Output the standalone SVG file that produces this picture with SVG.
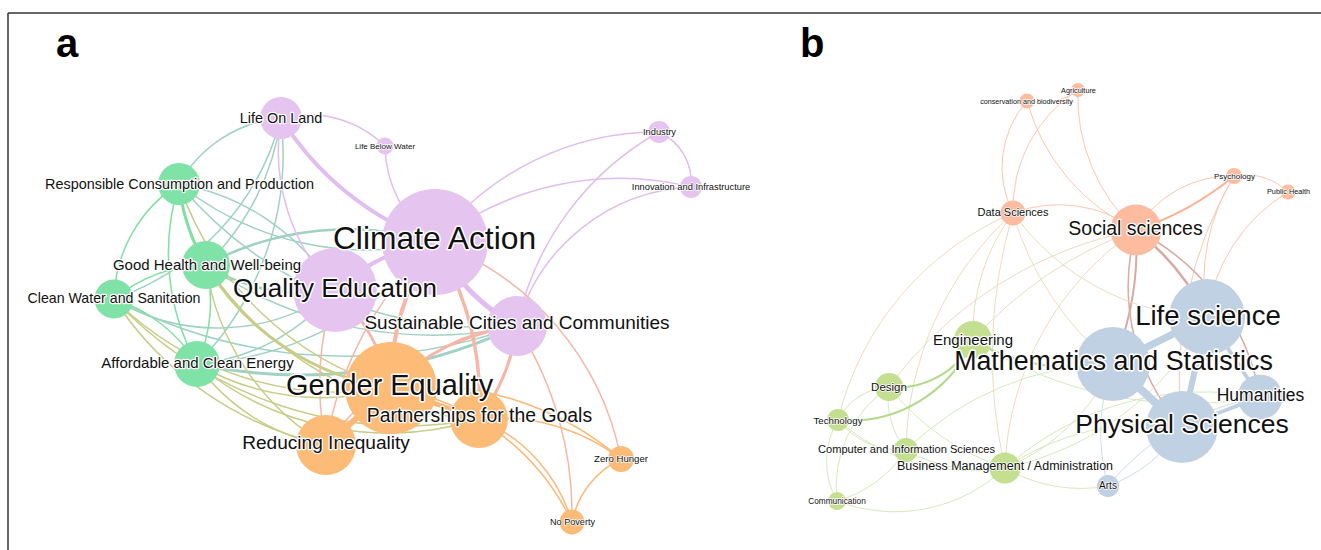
<svg xmlns="http://www.w3.org/2000/svg" width="1321" height="550" viewBox="0 0 1321 550">
<style>
  .lbl{font-family:"Liberation Sans",Arial,sans-serif;fill:#111;stroke:#fff;stroke-width:2.4;stroke-linejoin:round;paint-order:stroke;text-anchor:middle}
  .sm{stroke-width:1.4}
  .big{stroke-width:3}
  .panel{font-family:"Liberation Sans",Arial,sans-serif;font-weight:bold;font-size:40px;fill:#000}
  .e{fill:none;stroke-linecap:round}
  .ep{stroke:#e2bdf0;stroke-width:1.5}
  .et{stroke:#a0d2c4;stroke-width:1.5}
  .eo{stroke:#c8cd88;stroke-width:1.5}
  .es{stroke:#f6b7a8;stroke-width:1.5}
  .eor{stroke:#fdb878;stroke-width:1.5}
  .eg{stroke:#80e0a4;stroke-width:1.5}
  .bs{stroke:#fcc6b0;stroke-width:1}
  .bm{stroke:#d8aaa3;stroke-width:1.5}
  .bb{stroke:#eedcc0;stroke-width:1}
  .bg2{stroke:#b3d98a;stroke-width:2}
  .bg{stroke:#d6eabd;stroke-width:1}
  .bl{stroke:#cfdcea;stroke-width:1}
  .bt{stroke:#bfd0e2}
  .np{fill:#e6c4f0}
  .ng{fill:#7fe2a6}
  .no{fill:#fdbb78}
  .ns{fill:#fdbba0}
  .nl{fill:#c4df8f}
  .nb{fill:#c0d1e3}
</style>

<g id="frame" fill="none" stroke="#333" stroke-width="1.5">
  <line x1="8" y1="13" x2="1321" y2="13"/>
  <line x1="8" y1="13" x2="8" y2="550"/>
</g>
<text class="panel" x="56" y="57">a</text>
<text class="panel" x="800" y="57">b</text>

<g id="connectors-a">
  <!-- green-purple -->
  <path class="e et" d="M179,184 A130,130 0 0 1 281,118"/>
  <path class="e et" d="M206,265 A250,250 0 0 0 281,118"/>
  <path class="e et" d="M197,364 A300,300 0 0 0 281,118"/>
  <path class="e et" d="M114,299 A260,260 0 0 0 281,118"/>
  <path class="e et" d="M179,184 A230,230 0 0 1 335,290"/>
  <path class="e et" d="M179,184 A300,300 0 0 0 435,242"/>
  <path class="e et" d="M179,184 A400,400 0 0 0 517,326"/>
  <path class="e et" d="M206,265 A180,180 0 0 0 335,290" style="stroke-width:2.5"/>
  <path class="e et" d="M206,265 A300,300 0 0 1 435,242" style="stroke-width:2.5"/>
  <path class="e et" d="M206,265 A400,400 0 0 0 517,326"/>
  <path class="e et" d="M114,299 A200,200 0 0 0 335,290"/>
  <path class="e et" d="M114,299 A500,500 0 0 0 517,326"/>
  <path class="e et" d="M197,364 A200,200 0 0 0 335,290"/>
  <path class="e et" d="M197,364 A500,500 0 0 0 517,326" style="stroke-width:3"/>
  <path class="e et" d="M197,364 A330,330 0 0 0 435,242"/>
  <!-- green-orange -->
  <path class="e eo" d="M206,265 A260,260 0 0 0 391,388" style="stroke-width:3"/>
  <path class="e eo" d="M179,184 A320,320 0 0 0 391,388"/>
  <path class="e eo" d="M206,265 A250,250 0 0 0 326,445"/>
  <path class="e eo" d="M206,265 A350,350 0 0 0 479,419"/>
  <path class="e eo" d="M114,299 A340,340 0 0 0 326,445"/>
  <path class="e eo" d="M114,299 A320,320 0 0 0 391,388"/>
  <path class="e eo" d="M114,299 A400,400 0 0 0 479,419"/>
  <path class="e eo" d="M197,364 A250,250 0 0 0 391,388"/>
  <path class="e eo" d="M197,364 A200,200 0 0 0 326,445"/>
  <path class="e eo" d="M197,364 A300,300 0 0 0 479,419"/>
  <!-- green-green -->
  <path class="e eg" d="M179,184 A200,200 0 0 0 206,265" style="stroke-width:3"/>
  <path class="e eg" d="M179,184 A140,140 0 0 0 114,299"/>
  <path class="e eg" d="M179,184 A230,230 0 0 0 197,364"/>
  <path class="e eg" d="M206,265 A150,150 0 0 1 197,364"/>
  <path class="e eg" d="M114,299 A150,150 0 0 1 197,364"/>
  <path class="e eg" d="M114,299 A150,150 0 0 1 206,265"/>
  <!-- purple-purple -->
  <path class="e ep" d="M281,118 A300,300 0 0 0 435,242" style="stroke-width:4"/>
  <path class="e ep" d="M435,242 A200,200 0 0 0 517,326" style="stroke-width:5"/>
  <path class="e ep" d="M335,290 A200,200 0 0 1 435,242" style="stroke-width:4"/>
  <path class="e ep" d="M281,118 A110,110 0 0 1 385,146"/>
  <path class="e ep" d="M385,146 A120,120 0 0 0 435,242"/>
  <path class="e ep" d="M435,242 A280,280 0 0 1 659,132"/>
  <path class="e ep" d="M435,242 A300,300 0 0 1 691,187"/>
  <path class="e ep" d="M517,326 A290,290 0 0 1 659,132"/>
  <path class="e ep" d="M517,326 A190,190 0 0 1 691,187"/>
  <path class="e ep" d="M659,132 A55,55 0 0 1 691,187"/>
  <path class="e ep" d="M281,118 A200,200 0 0 0 335,290"/>
  <!-- orange-purple -->
  <path class="e es" d="M391,388 A200,200 0 0 0 335,290" style="stroke-width:3"/>
  <path class="e es" d="M391,388 A250,250 0 0 1 435,242" style="stroke-width:4"/>
  <path class="e es" d="M391,388 A200,200 0 0 1 517,326" style="stroke-width:3"/>
  <path class="e es" d="M479,419 A300,300 0 0 0 435,242" style="stroke-width:3.5"/>
  <path class="e es" d="M479,419 A200,200 0 0 0 517,326" style="stroke-width:3"/>
  <path class="e es" d="M326,445 A300,300 0 0 1 335,290"/>
  <path class="e es" d="M326,445 A350,350 0 0 1 435,242"/>
  <path class="e es" d="M326,445 A300,300 0 0 1 517,326"/>
  <path class="e es" d="M435,242 A290,290 0 0 1 621,459"/>
  <path class="e es" d="M517,326 A350,350 0 0 1 572,522"/>
  <!-- orange-orange -->
  <path class="e eor" d="M391,388 L326,445" style="stroke-width:6"/>
  <path class="e eor" d="M391,388 L479,419" style="stroke-width:5"/>
  <path class="e eor" d="M391,388 A300,300 0 0 1 621,459"/>
  <path class="e eor" d="M479,419 A200,200 0 0 1 621,459"/>
  <path class="e eor" d="M479,419 A160,160 0 0 1 572,522"/>
  <path class="e eor" d="M391,388 A240,240 0 0 1 572,522"/>
  <path class="e eor" d="M621,459 A90,90 0 0 0 572,522"/>
</g>

<g id="connectors-b">
  <path class="e bs" d="M1027,101 A60,60 0 0 0 1078,90"/>
  <path class="e bs" d="M1027,101 A100,100 0 0 0 1013,213"/>
  <path class="e bs" d="M1078,90 A140,140 0 0 0 1013,213"/>
  <path class="e bs" d="M1027,101 A200,200 0 0 0 1136,230"/>
  <path class="e bs" d="M1078,90 A180,180 0 0 0 1136,230"/>
  <path class="e bs" d="M1013,213 A130,130 0 0 1 1136,230"/>
  <path class="e bs" d="M1136,230 A110,110 0 0 1 1234,176"/>
  <path class="e bs" d="M1136,230 A300,300 0 0 0 1234,176" style="stroke:#f8b294;stroke-width:2"/>
  <path class="e bs" d="M1234,176 A60,60 0 0 1 1288,192"/>
  <path class="e bs" d="M1234,176 A200,200 0 0 0 1207,317"/>
  <path class="e bs" d="M1234,176 A400,400 0 0 0 1182,427"/>
  <path class="e bs" d="M1288,192 A170,170 0 0 0 1207,317"/>
  <path class="e bm" d="M1136,230 A250,250 0 0 1 1207,317" style="stroke-width:2.5"/>
  <path class="e bm" d="M1136,230 A300,300 0 0 1 1113,364" style="stroke-width:2"/>
  <path class="e bm" d="M1136,230 A210,210 0 0 0 1182,427"/>
  <path class="e bm" d="M1136,230 A230,230 0 0 1 1260,397"/>
  <path class="e bb" d="M1136,230 A400,400 0 0 0 973,340"/>
  <path class="e bb" d="M1005,468 A300,300 0 0 1 1136,230"/>
  <path class="e bb" d="M1136,230 A400,400 0 0 0 889,387"/>
  <path class="e bb" d="M1013,213 A300,300 0 0 0 1113,364"/>
  <path class="e bb" d="M1013,213 A250,250 0 0 0 1207,317"/>
  <path class="e bb" d="M1013,213 A326,326 0 0 0 906,450"/>
  <path class="e bb" d="M1013,213 A300,300 0 0 0 838,420"/>
  <path class="e bb" d="M1013,213 A500,500 0 0 0 1005,468"/>
  <path class="e bb" d="M1013,213 A200,200 0 0 0 973,340"/>
  <path class="e bg" d="M838,420 A60,60 0 0 1 889,387"/>
  <path class="e bg" d="M838,420 A80,80 0 0 0 906,450"/>
  <path class="e bg" d="M838,420 A80,80 0 0 0 837,501"/>
  <path class="e bg" d="M889,387 A120,120 0 0 0 837,501"/>
  <path class="e bg" d="M838,420 A200,200 0 0 0 1005,468"/>
  <path class="e bg" d="M889,387 A80,80 0 0 0 906,450"/>
  <path class="e bg" d="M889,387 A250,250 0 0 0 1005,468"/>
  <path class="e bg" d="M906,450 A150,150 0 0 0 1005,468"/>
  <path class="e bg" d="M906,450 A120,120 0 0 1 837,501"/>
  <path class="e bg" d="M837,501 A160,160 0 0 0 1005,468"/>
  <path class="e bg" d="M1005,468 A200,200 0 0 0 1113,364"/>
  <path class="e bg" d="M1005,468 A250,250 0 0 1 1182,427"/>
  <path class="e bg" d="M1005,468 A300,300 0 0 0 1207,317"/>
  <path class="e bg" d="M1005,468 A300,300 0 0 1 1260,397"/>
  <path class="e bg" d="M906,450 A300,300 0 0 1 1113,364"/>
  <path class="e bg" d="M973,340 A400,400 0 0 0 1260,397"/>
  <path class="e bg" d="M1005,468 A150,150 0 0 0 1108,486"/>
  <path class="e bg2" d="M889,387 A84,84 0 0 0 973,340"/>
  <path class="e bg2" d="M838,420 A134,134 0 0 0 973,340"/>
  <path class="e bg2" d="M973,340 A200,200 0 0 0 1113,364"/>
  <path class="e bl" d="M1108,486 A150,150 0 0 0 1182,427"/>
  <path class="e bl" d="M1108,486 A250,250 0 0 1 1260,397"/>
  <path class="e bl" d="M1108,486 A200,200 0 0 1 1113,364"/>
  <path class="e bt" d="M1113,364 L1207,317" style="stroke-width:7"/>
  <path class="e bt" d="M1113,364 L1182,427" style="stroke-width:8"/>
  <path class="e bt" d="M1207,317 L1182,427" style="stroke-width:6"/>
  <path class="e bt" d="M1207,317 L1260,397" style="stroke-width:4"/>
  <path class="e bt" d="M1182,427 L1260,397" style="stroke-width:4"/>
</g>

<g id="nodes">
<!-- panel a -->
<g id="node-life-on-land"><circle class="np" cx="281" cy="118" r="21"/></g>
<g id="node-life-below-water"><circle class="np" cx="385" cy="146" r="8.5"/></g>
<g id="node-industry"><circle class="np" cx="659" cy="132" r="11"/></g>
<g id="node-innovation"><circle class="np" cx="691" cy="187" r="11"/></g>
<g id="node-responsible-consumption"><circle class="ng" cx="179" cy="184" r="21"/></g>
<g id="node-good-health"><circle class="ng" cx="206" cy="265" r="24"/></g>
<g id="node-clean-water"><circle class="ng" cx="114" cy="299" r="19.5"/></g>
<g id="node-affordable-energy"><circle class="ng" cx="197" cy="364" r="23"/></g>
<g id="node-climate-action"><circle class="np" cx="435" cy="242" r="53"/></g>
<g id="node-quality-education"><circle class="np" cx="335" cy="290" r="42"/></g>
<g id="node-sustainable-cities"><circle class="np" cx="517" cy="326" r="30"/></g>
<g id="node-reducing-inequality"><circle class="no" cx="326" cy="445" r="30"/></g>
<g id="node-gender-equality"><circle class="no" cx="391" cy="388" r="46"/></g>
<g id="node-partnerships"><circle class="no" cx="479" cy="419" r="29"/></g>
<g id="node-zero-hunger"><circle class="no" cx="621" cy="459" r="13"/></g>
<g id="node-no-poverty"><circle class="no" cx="572" cy="522" r="12.5"/></g>
<!-- panel b -->
<g id="node-conservation"><circle class="ns" cx="1027" cy="101" r="7.5"/></g>
<g id="node-agriculture"><circle class="ns" cx="1078" cy="90" r="7"/></g>
<g id="node-psychology"><circle class="ns" cx="1234" cy="176" r="8"/></g>
<g id="node-public-health"><circle class="ns" cx="1288" cy="192" r="7.5"/></g>
<g id="node-data-sciences"><circle class="ns" cx="1013" cy="213" r="12.5"/></g>
<g id="node-social-sciences"><circle class="ns" cx="1136" cy="230" r="25.5"/></g>
<g id="node-engineering"><circle class="nl" cx="973" cy="340" r="19"/></g>
<g id="node-design"><circle class="nl" cx="889" cy="387" r="14"/></g>
<g id="node-technology"><circle class="nl" cx="838" cy="420" r="11"/></g>
<g id="node-computer-information"><circle class="nl" cx="906" cy="450" r="12"/></g>
<g id="node-business-management"><circle class="nl" cx="1005" cy="468" r="15.5"/></g>
<g id="node-communication"><circle class="nl" cx="837" cy="501" r="9"/></g>
<g id="node-arts"><circle class="nb" cx="1108" cy="486" r="11"/></g>
<g id="node-life-science"><circle class="nb" cx="1207" cy="317" r="38"/></g>
<g id="node-humanities"><circle class="nb" cx="1260" cy="397" r="22.5"/></g>
<g id="node-physical-sciences"><circle class="nb" cx="1182" cy="427" r="36"/></g>
<g id="node-mathematics"><circle class="nb" cx="1113" cy="364" r="37"/></g>
</g>

<g id="labels">
<!-- panel a -->
<text id="label-life-on-land" class="lbl" x="281" y="123" font-size="14.4">Life On Land</text>
<text id="label-life-below-water" class="lbl sm" x="385" y="148.5" font-size="8">Life Below Water</text>
<text id="label-industry" class="lbl sm" x="659.5" y="134.5" font-size="9.3">Industry</text>
<text id="label-innovation" class="lbl sm" x="691" y="190" font-size="9.3">Innovation and Infrastructure</text>
<text id="label-responsible-consumption" class="lbl" x="179.5" y="189" font-size="14.4">Responsible Consumption and Production</text>
<text id="label-good-health" class="lbl" x="207" y="270" font-size="15">Good Health and Well-being</text>
<text id="label-clean-water" class="lbl" x="114" y="303" font-size="14.2">Clean Water and Sanitation</text>
<text id="label-affordable-energy" class="lbl" x="197.5" y="368" font-size="15">Affordable and Clean Energy</text>
<text id="label-climate-action" class="lbl big" x="434.5" y="249" font-size="31.8">Climate Action</text>
<text id="label-quality-education" class="lbl big" x="335" y="297" font-size="26">Quality Education</text>
<text id="label-sustainable-cities" class="lbl" x="517" y="329" font-size="19">Sustainable Cities and Communities</text>
<text id="label-gender-equality" class="lbl big" x="389.5" y="394.5" font-size="28.9">Gender Equality</text>
<text id="label-partnerships" class="lbl" x="479.5" y="422" font-size="19.4">Partnerships for the Goals</text>
<text id="label-reducing-inequality" class="lbl" x="326" y="449" font-size="19.1">Reducing Inequality</text>
<text id="label-zero-hunger" class="lbl sm" x="621" y="462" font-size="9.6">Zero Hunger</text>
<text id="label-no-poverty" class="lbl sm" x="572.5" y="525" font-size="9.1">No Poverty</text>
<!-- panel b -->
<text id="label-conservation" class="lbl sm" x="1026.5" y="103.5" font-size="7.2">conservation and biodiversity</text>
<text id="label-agriculture" class="lbl sm" x="1078.5" y="92.5" font-size="7.3">Agriculture</text>
<text id="label-psychology" class="lbl sm" x="1234.5" y="179" font-size="8">Psychology</text>
<text id="label-public-health" class="lbl sm" x="1288.5" y="194" font-size="7.3">Public Health</text>
<text id="label-data-sciences" class="lbl sm" x="1013" y="216" font-size="11">Data Sciences</text>
<text id="label-social-sciences" class="lbl" x="1135.5" y="235" font-size="19.5">Social sciences</text>
<text id="label-engineering" class="lbl" x="973" y="345" font-size="15">Engineering</text>
<text id="label-design" class="lbl sm" x="889" y="391" font-size="11.5">Design</text>
<text id="label-technology" class="lbl sm" x="838" y="423.5" font-size="9.7">Technology</text>
<text id="label-computer-information" class="lbl sm" x="906.5" y="453" font-size="11.1">Computer and Information Sciences</text>
<text id="label-business-management" class="lbl sm" x="1005" y="470" font-size="12.5">Business Management / Administration</text>
<text id="label-communication" class="lbl sm" x="837" y="504" font-size="8.3">Communication</text>
<text id="label-arts" class="lbl sm" x="1108" y="489" font-size="10">Arts</text>
<text id="label-life-science" class="lbl big" x="1208" y="325" font-size="27.6">Life science</text>
<text id="label-humanities" class="lbl" x="1260.5" y="401" font-size="17.5">Humanities</text>
<text id="label-physical-sciences" class="lbl big" x="1182" y="433" font-size="26.5">Physical Sciences</text>
<text id="label-mathematics" class="lbl big" x="1113.5" y="370" font-size="26.8">Mathematics and Statistics</text>
</g>
</svg>
